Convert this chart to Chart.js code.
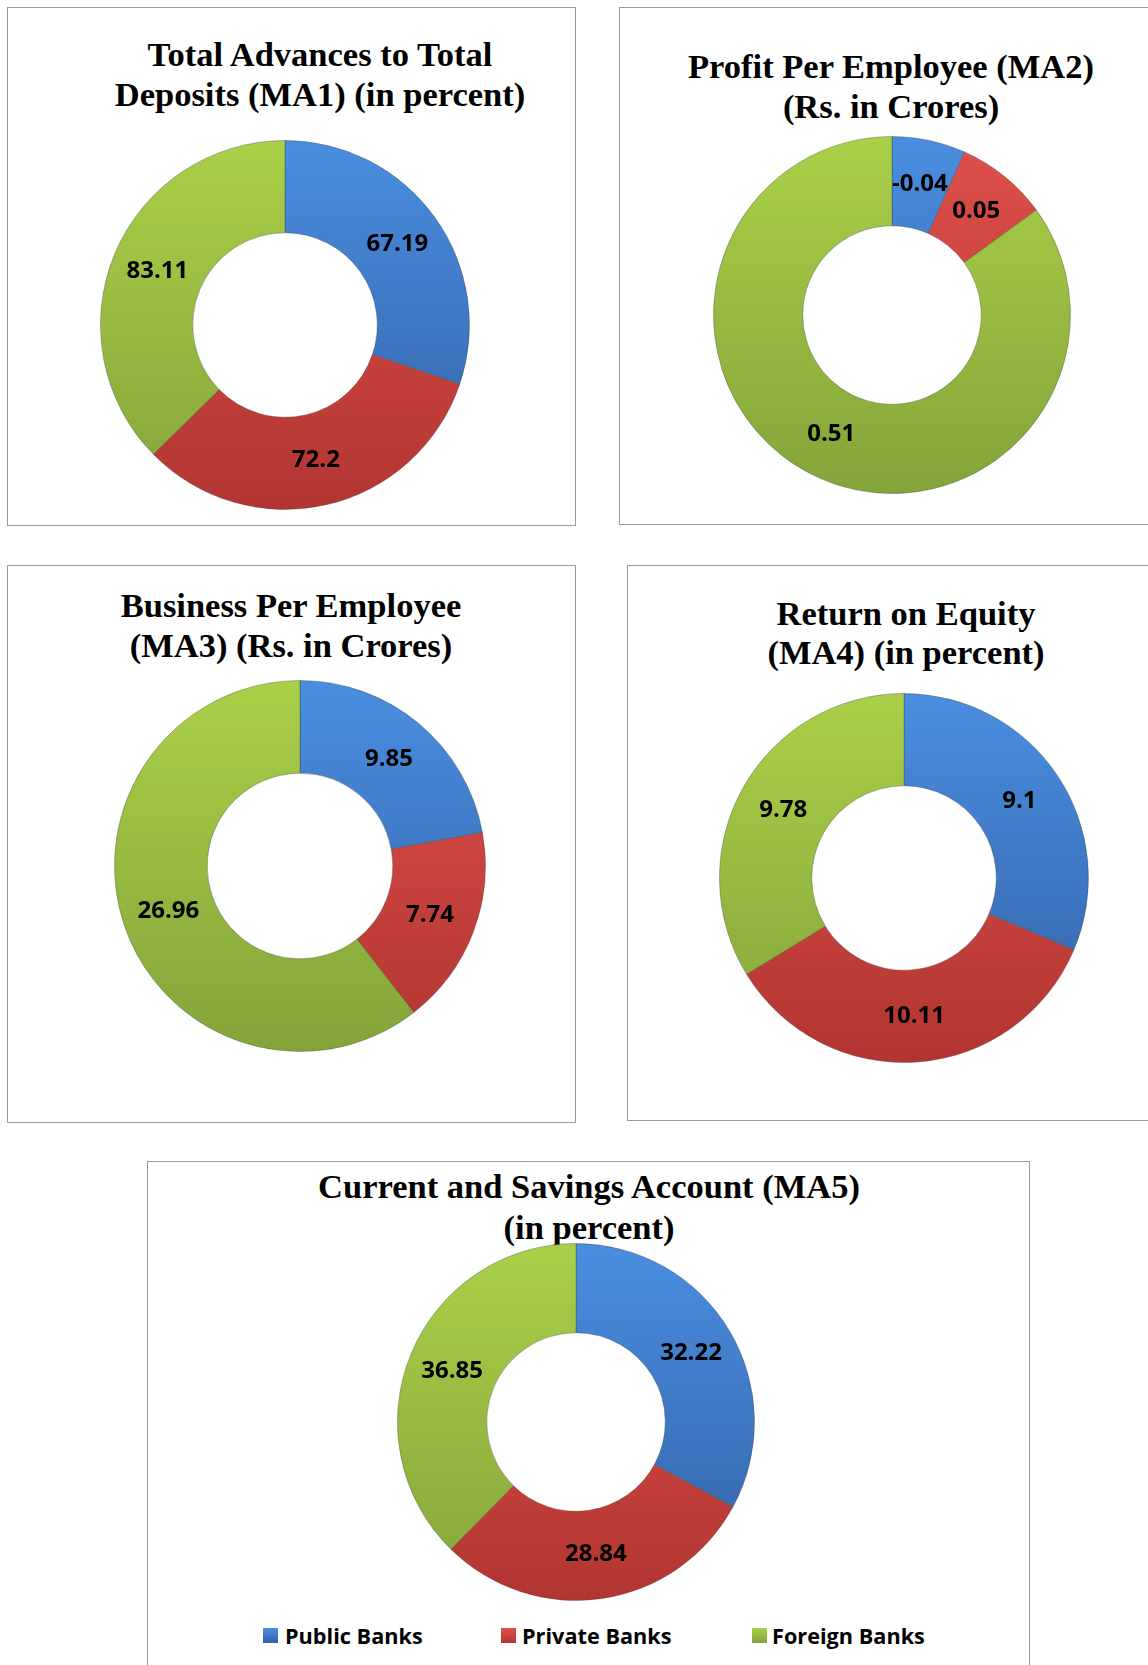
<!DOCTYPE html>
<html>
<head>
<meta charset="utf-8">
<script src="https://cdn.jsdelivr.net/npm/chart.js@4/dist/chart.umd.min.js"></script>
<style>
  html, body { margin: 0; padding: 0; background: #fff; }
  body { width: 1148px; height: 1665px; position: relative; overflow: hidden; }
  .box { position: absolute; border: 1px solid #9a9a9a; box-sizing: border-box; }
  .title {
    position: absolute; width: 640px; text-align: center; white-space: nowrap;
    font-family: "Liberation Serif", "Times New Roman", serif; font-weight: bold;
    font-size: 34.5px; line-height: 39.5px; color: #000;
  }
  .plot { position: absolute; }
  .legend { position: absolute; font-family: "Open Sans", "Noto Sans", sans-serif; font-weight: 700; font-size: 21.7px; color: #000; }
  .legend span.sw { position: absolute; width: 15px; height: 15px; }
  .legend span.tx { position: absolute; white-space: nowrap; line-height: 26px; }
</style>
</head>
<body>
<div class="box" style="left:7px;top:7px;width:569px;height:519px"></div>
<div class="box" style="left:619px;top:7px;width:540px;height:518px"></div>
<div class="box" style="left:7px;top:565px;width:569px;height:558px"></div>
<div class="box" style="left:627px;top:565px;width:540px;height:556px"></div>
<div class="box" style="left:147px;top:1161px;width:883px;height:520px"></div>

<script>
// data
const categories = ['Public Banks', 'Private Banks', 'Foreign Banks'];
const ma1Values = [67.19, 72.2, 83.11];
const ma2Values = [-0.04, 0.05, 0.51];
const ma3Values = [9.85, 7.74, 26.96];
const ma4Values = [9.1, 10.11, 9.78];
const ma5Values = [32.22, 28.84, 36.85];
const titles = [
  ['Total Advances to Total', 'Deposits (MA1) (in percent)'],
  ['Profit Per Employee (MA2)', '(Rs. in Crores)'],
  ['Business Per Employee', '(MA3) (Rs. in Crores)'],
  ['Return on Equity', '(MA4) (in percent)'],
  ['Current and Savings Account (MA5)', '(in percent)']
];

// top / bottom shades of each slice colour
const shades = [
  ['#4a8ee0', '#3361a6'],
  ['#e0504b', '#b23531'],
  ['#a9d048', '#83a43a']
];

// where each panel sits on the page
const panels = [
  { values: ma1Values, cx: 285, cy: 325, r: 185, titleX: 320, titleY: 55, lh: 39.5 },
  { values: ma2Values, cx: 892, cy: 315, r: 179, titleX: 891, titleY: 66, lh: 40 },
  { values: ma3Values, cx: 300, cy: 866, r: 186, titleX: 291, titleY: 605, lh: 40 },
  { values: ma4Values, cx: 904, cy: 878, r: 185, titleX: 906, titleY: 613, lh: 39 },
  { values: ma5Values, cx: 576, cy: 1422, r: 179, titleX: 589, titleY: 1186, lh: 41 }
];

const sliceLabels = {
  id: 'sliceLabels',
  afterDatasetsDraw(chart) {
    const ctx = chart.ctx;
    const shown = chart.options.plugins.sliceLabels.values;
    const meta = chart.getDatasetMeta(0);
    ctx.save();
    ctx.font = 'bold 24px "Open Sans", "Noto Sans", sans-serif';
    ctx.fillStyle = '#000';
    ctx.textAlign = 'center';
    ctx.textBaseline = 'middle';
    meta.data.forEach((arc, i) => {
      const p = arc.getCenterPoint();
      ctx.fillText(String(shown[i]), p.x, p.y);
    });
    ctx.restore();
  }
};

function sliceFill(context) {
  const chart = context.chart;
  const area = chart.chartArea;
  const pair = shades[context.dataIndex];
  if (!area) return pair[0];
  const g = chart.ctx.createLinearGradient(0, area.top, 0, area.bottom);
  g.addColorStop(0, pair[0]);
  g.addColorStop(1, pair[1]);
  return g;
}

const pad = 3;
panels.forEach((p, k) => {
  const t = document.createElement('div');
  t.className = 'title';
  t.style.left = (p.titleX - 320) + 'px';
  t.style.top = (p.titleY - p.lh / 2) + 'px';
  t.style.lineHeight = p.lh + 'px';
  t.innerHTML = titles[k].join('<br>');
  document.body.appendChild(t);

  const holder = document.createElement('div');
  holder.className = 'plot';
  const size = 2 * p.r + 2 * pad;
  holder.style.left = (p.cx - p.r - pad) + 'px';
  holder.style.top = (p.cy - p.r - pad) + 'px';
  holder.style.width = size + 'px';
  holder.style.height = size + 'px';
  const canvas = document.createElement('canvas');
  holder.appendChild(canvas);
  document.body.appendChild(holder);

  new Chart(canvas.getContext('2d'), {
    type: 'doughnut',
    data: {
      labels: categories,
      datasets: [{
        data: p.values.map(v => Math.abs(v)),
        backgroundColor: sliceFill,
        borderColor: 'rgba(60,60,60,0.35)',
        borderWidth: 1
      }]
    },
    options: {
      responsive: true,
      maintainAspectRatio: false,
      animation: false,
      cutout: '50%',
      layout: { padding: pad },
      plugins: {
        legend: { display: false },
        tooltip: { enabled: false },
        sliceLabels: { values: p.values }
      }
    },
    plugins: [sliceLabels]
  });
});

// legend under the last panel
const legendSpots = [[263, 285], [501, 522], [752, 772]];
const legend = document.createElement('div');
legend.className = 'legend';
legend.style.left = '0px';
legend.style.top = '0px';
categories.forEach((name, i) => {
  const sw = document.createElement('span');
  sw.className = 'sw';
  sw.style.left = legendSpots[i][0] + 'px';
  sw.style.top = (1636 - 8) + 'px';
  sw.style.background = 'linear-gradient(' + shades[i][0] + ',' + shades[i][1] + ')';
  const tx = document.createElement('span');
  tx.className = 'tx';
  tx.style.left = legendSpots[i][1] + 'px';
  tx.style.top = (1636 - 13) + 'px';
  tx.textContent = name;
  legend.appendChild(sw);
  legend.appendChild(tx);
});
document.body.appendChild(legend);
</script>
</body>
</html>
